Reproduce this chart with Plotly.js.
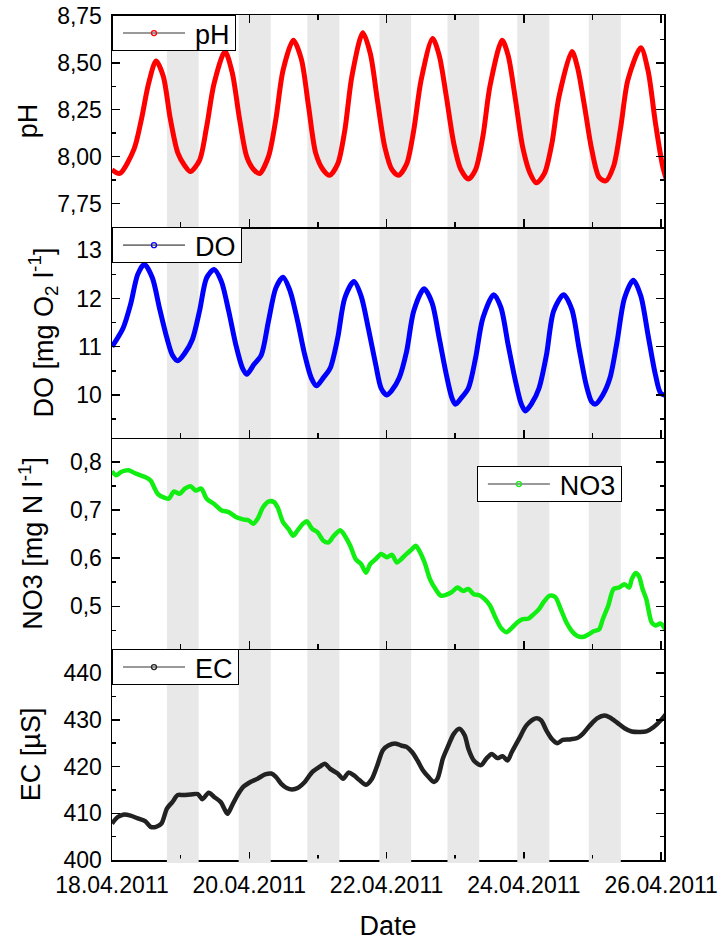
<!DOCTYPE html>
<html><head><meta charset="utf-8">
<script src="https://cdn.plot.ly/plotly-3.0.1.min.js"></script>
<style>html,body{margin:0;padding:0;background:#fff}#chart{width:721px;height:941px}</style>
</head><body><div id="chart"></div>
<script>
// Time values are hours since 18.04.2011 00:00
const startDate = '2011-04-18T00:00:00Z';

const phHours = [0,2.7,7.7,10.3,12.8,15.4,17.9,20.4,23.0,25.5,27.4,30.6,33.1,35.7,39.5,42.0,44.6,47.1,49.6,51.6,54.7,57.3,59.8,63.4,66.2,68.7,71.2,73.8,76.1,78.9,81.4,83.9,87.7,90.3,92.8,95.4,97.9,100.2,103.0,105.5,108.1,112.1,114.4,116.9,119.5,122.0,124.6,127.1,129.7,132.2,136.4,138.5,141.1,143.6,146.2,148.4,151.2,153.8,156.3,160.8,162.7,165.2,167.7,170.3,172.6,175.4,177.9,180.4,184.9,187.4,190.0,192.5,194];
const phValues = [7.93,7.91,8.04,8.20,8.39,8.51,8.43,8.20,8.02,7.95,7.92,7.98,8.16,8.39,8.56,8.45,8.20,8.00,7.93,7.91,8.00,8.20,8.46,8.62,8.52,8.27,8.02,7.93,7.90,7.96,8.14,8.43,8.66,8.55,8.30,8.05,7.93,7.90,7.96,8.14,8.41,8.63,8.54,8.32,8.07,7.93,7.88,7.93,8.11,8.38,8.62,8.54,8.30,8.05,7.91,7.86,7.91,8.07,8.32,8.56,8.48,8.27,8.04,7.89,7.87,7.95,8.16,8.41,8.58,8.46,8.18,7.95,7.87];

const doHours = [0,3.9,6.5,9.0,11.3,14.1,16.6,19.2,21.1,23.0,25.5,28.1,30.6,33.1,35.7,38.2,40.8,43.3,45.6,47.1,49.6,52.2,54.7,57.3,59.8,62.3,64.9,67.4,69.7,71.5,73.8,76.3,78.9,81.4,84.6,87.1,89.6,92.2,94.1,96.0,97.9,100.4,103.0,105.5,109.1,111.9,114.4,116.9,118.9,120.1,122.0,124.6,127.1,129.7,133.5,136.0,138.5,141.1,143.0,144.5,146.8,149.3,151.9,154.4,157.9,160.8,163.3,165.8,167.7,169.0,171.6,174.1,176.6,179.2,182.3,184.9,187.4,190.0,191.9,194];
const doValues = [11.0,11.39,11.88,12.5,12.71,12.43,11.8,11.18,10.83,10.71,10.87,11.15,11.74,12.43,12.60,12.36,11.74,11.04,10.56,10.43,10.63,10.83,11.53,12.22,12.44,12.15,11.53,10.83,10.35,10.19,10.35,10.56,11.18,12.01,12.35,12.05,11.39,10.63,10.14,10.0,10.10,10.35,10.90,11.74,12.20,11.91,11.18,10.42,9.93,9.81,9.93,10.14,10.76,11.60,12.08,11.81,11.04,10.28,9.83,9.67,9.83,10.14,10.83,11.74,12.08,11.77,10.97,10.21,9.86,9.81,10.0,10.35,11.11,12.01,12.38,12.05,11.25,10.42,10.03,9.99];

const no3Hours = [0,1.4,3.3,5.8,8.4,11.6,13.5,14.7,16.0,17.9,19.8,21.7,23.6,25.5,27.4,29.3,31.2,33.1,35.7,38.2,40.8,43.3,45.8,47.7,49.4,50.9,52.8,54.7,56.6,57.9,59.8,61.7,63.4,64.9,66.8,68.1,70.0,71.9,73.8,75.7,77.6,79.9,81.4,83.3,85.2,87.1,88.8,90.3,92.2,94.1,96.0,97.9,99.6,101.1,103.0,104.9,106.2,107.4,109.3,111.2,113.1,115.0,116.9,118.9,120.8,122.7,124.6,126.5,128.4,130.3,132.2,134.1,136.0,137.9,139.8,141.7,143.6,145.5,147.4,149.3,151.2,153.1,155.0,156.9,158.9,160.8,162.7,164.6,166.5,168.4,170.3,171.6,173.5,175.4,177.3,179.2,180.8,181.7,183.0,184.2,185.5,186.8,188.7,190.0,191.9,193.8];
const no3Values = [0.781,0.773,0.780,0.783,0.776,0.769,0.762,0.748,0.734,0.727,0.724,0.739,0.734,0.745,0.750,0.741,0.745,0.724,0.713,0.700,0.696,0.686,0.681,0.679,0.672,0.682,0.706,0.718,0.717,0.706,0.675,0.661,0.647,0.658,0.672,0.677,0.661,0.654,0.637,0.633,0.647,0.658,0.647,0.626,0.598,0.588,0.570,0.588,0.598,0.609,0.602,0.607,0.591,0.598,0.609,0.619,0.626,0.616,0.591,0.556,0.536,0.522,0.524,0.530,0.539,0.532,0.536,0.525,0.523,0.515,0.501,0.476,0.455,0.446,0.455,0.466,0.473,0.474,0.483,0.494,0.511,0.522,0.519,0.494,0.466,0.448,0.438,0.436,0.441,0.448,0.452,0.473,0.501,0.536,0.539,0.546,0.539,0.556,0.569,0.563,0.536,0.515,0.466,0.460,0.464,0.448];

const ecHours = [0,2.0,3.9,6.5,9.0,11.6,13.5,15.4,17.3,19.2,21.1,23.0,24.9,27.4,30.0,31.6,33.8,35.7,38.0,39.5,40.4,42.0,43.9,45.8,48.4,50.9,53.5,55.7,57.3,59.2,61.1,63.0,64.9,67.4,70.0,72.5,74.4,76.3,78.9,80.8,82.7,84.6,86.5,88.8,90.9,92.8,94.7,96.6,99.2,101.1,103.0,104.9,106.8,108.7,110.6,112.5,113.8,115.7,117.6,119.5,121.4,123.3,124.6,126.5,129.0,130.9,132.8,134.7,136.6,138.3,139.8,142.3,144.9,148.1,150.0,151.9,153.8,155.7,157.6,160.1,162.7,164.6,167.1,169.6,172.2,174.1,176.6,179.2,181.7,184.2,186.8,189.3,191.9,193.8];
const ecValues = [407.8,409.2,409.7,409.5,408.9,408.3,407.1,407.1,407.8,411.0,412.4,413.9,413.9,414.0,414.1,413.0,414.4,413.5,412.4,410.7,409.9,411.7,413.9,415.6,416.7,417.4,418.3,418.5,417.8,416.3,415.4,415.1,415.4,416.7,418.8,419.9,420.6,419.5,418.5,417.4,418.7,418.1,417.1,416.1,417.4,420.3,423.5,424.5,424.9,424.5,424.2,423.1,421.3,419.2,417.8,416.7,417.4,421.7,424.5,427.0,428.1,426.7,423.8,421.3,420.3,421.7,422.7,421.8,422.2,421.3,423.1,425.9,428.8,430.3,429.9,427.7,425.9,425.0,425.7,425.8,426.1,427.0,428.8,430.3,430.9,430.5,429.4,428.2,427.5,427.4,427.5,428.4,429.9,431.3];

// night periods (shaded), hours since start
const nightStart = [19.2,44.3,68.3,93.5,117.3,141.7,166.7];
const nightEnd   = [30.3,55.5,79.5,104.6,128.4,152.9,177.9];

const seriesNames = ['pH','DO','NO3','EC'];
const seriesColors = ['#ff0000','#0000ff','#11ee11','#222222'];

const t0 = Date.parse(startDate);
function toDate(h){ return new Date(t0 + h*3600000).toISOString().slice(0,19).replace('T',' '); }

const FONT = 'Liberation Sans, Arial, sans-serif';
const hoursArr = [phHours, doHours, no3Hours, ecHours];
const valArr = [phValues, doValues, no3Values, ecValues];
const yRefs = ['y4','y3','y2','y'];
const xRefs = ['x4','x3','x2','x'];
const legendIds = ['legend','legend2','legend3','legend4'];
const widths = [5,5,4.5,4.5];

const traces = [];
for (let i=0;i<4;i++){
  traces.push({
    type:'scatter', mode:'lines', name:seriesNames[i],
    x: hoursArr[i].map(toDate), y: valArr[i],
    xaxis: xRefs[i], yaxis: yRefs[i],
    line:{color:seriesColors[i], width:widths[i], shape:'spline', smoothing:0.8},
    showlegend:false, hoverinfo:'x+y'
  });
  traces.push({
    type:'scatter', mode:'lines+markers', name:seriesNames[i],
    x:[null], y:[null], xaxis: xRefs[i], yaxis: yRefs[i],
    line:{color:'#777777', width:1.6},
    marker:{symbol:'circle-open', size:5, color:seriesColors[i], line:{width:1.3, color:seriesColors[i]}},
    legend: legendIds[i], showlegend:true
  });
}

const shapes = [];
for (let i=0;i<nightStart.length;i++){
  shapes.push({type:'rect', xref:'x', yref:'paper', x0:toDate(nightStart[i]), x1:toDate(nightEnd[i]),
    y0:0, y1:1, fillcolor:'#e8e8e8', line:{width:0}, layer:'below'});
  shapes.push({type:'rect', xref:'x', yref:'paper', x0:toDate(nightStart[i]), x1:toDate(nightEnd[i]),
    y0:-0.0035, y1:0.0018, fillcolor:'#e8e8e8', line:{width:0}, layer:'above'});
}

const xRange = [toDate(0), toDate(193)];
function xAxis(anchor, labels, mirror){
  return {
    type:'date', anchor:anchor, matches: anchor==='y' ? undefined : 'x',
    range:xRange, showline:true, linecolor:'#000', linewidth:1.5,
    mirror:mirror, ticks:'inside', ticklen:8, tickwidth:1.5, tickcolor:'#000',
    tick0:'2011-04-18', dtick:172800000, tickformat:'%d.%m.%Y',
    minor:{ticks:'inside', ticklen:5, tickwidth:1.5, dtick:86400000, tick0:'2011-04-18', tickcolor:'#000'},
    showticklabels:labels, showgrid:false, zeroline:false, ticklabelstandoff:4,
    tickfont:{family:FONT, size:23, color:'#000'}
  };
}
function yAxis(domain, range, dtick, tick0, minorDtick, fmt, title, standoff){
  return {
    domain:domain, range:range, showline:true, linecolor:'#000', linewidth:1.5,
    mirror:'ticks', ticks:'inside', ticklen:8, tickwidth:1.5, tickcolor:'#000',
    tick0:tick0, dtick:dtick, tickformat:fmt, ticklabelstandoff:4,
    minor:{ticks:'inside', ticklen:4, tickwidth:1.5, dtick:minorDtick, tick0:tick0, tickcolor:'#000'},
    showgrid:false, zeroline:false,
    tickfont:{family:FONT, size:23, color:'#000'},
    title:{text:title, font:{family:FONT, size:27, color:'#000'}, standoff:standoff}
  };
}

function legendBox(x, y){
  return {x:x, y:y, xanchor:'left', yanchor:'top', bgcolor:'#fff', bordercolor:'#000', borderwidth:1,
    font:{family:FONT, size:27, color:'#000'}, itemwidth:72, tracegroupgap:0};
}

const layout = {
  width:721, height:941, autosize:false,
  margin:{l:112, r:57, t:15, b:81},
  paper_bgcolor:'#fff', plot_bgcolor:'rgba(0,0,0,0)',
  separators:', ',
  font:{family:FONT, color:'#000'},
  xaxis: Object.assign(xAxis('y', true, false), {title:{text:'Date', font:{family:FONT, size:27, color:'#000'}, standoff:20}}),
  xaxis2: xAxis('y2', false, false),
  xaxis3: xAxis('y3', false, false),
  xaxis4: xAxis('y4', false, 'ticks'),
  yaxis: yAxis([0,0.25], [400,445.2], 10, 400, 5, 'd', 'EC [µS]', 15),
  yaxis2: yAxis([0.25,0.4995], [0.4115,0.8505], 0.1, 0.5, 0.05, '.1f', 'NO3 [mg N l<sup>-1</sup>]', 19),
  yaxis3: yAxis([0.4995,0.749], [9.11,13.48], 1, 10, 0.5, 'd', 'DO [mg O<sub>2</sub> l<sup>-1</sup>]', 15),
  yaxis4: yAxis([0.749,1], [7.624,8.755], 0.25, 7.75, 0.125, '.2f', 'pH', 11),
  legend: legendBox(0, 1),
  legend2: legendBox(0, 0.749),
  legend3: legendBox(0.661, 0.4663),
  legend4: legendBox(0, 0.2497),
  shapes: shapes,
  showlegend:true
};

const gd = document.getElementById('chart');
Plotly.newPlot(gd, traces, layout, {displayModeBar:false, staticPlot:true}).then(function(){
  // Origin-style legend sample: longer grey line with the marker in its middle, compact box
  const boxH = 36;
  gd.querySelectorAll('g.legend, g.legend2, g.legend3, g.legend4').forEach(function(lg){
    const bg = lg.querySelector('rect.bg');
    if (!bg) return;
    const oldH = parseFloat(bg.getAttribute('height')) || boxH;
    const shift = (oldH - boxH) / 2;
    bg.setAttribute('height', boxH - 1);
    const sb = lg.querySelector('g.scrollbox');
    if (sb) sb.setAttribute('transform', 'translate(0,' + (-shift) + ')');
    lg.querySelectorAll('path.js-line').forEach(function(p){ p.setAttribute('d', 'M10,0h62'); });
    lg.querySelectorAll('.legendpoints path.scatterpts').forEach(function(p){ p.setAttribute('transform', 'translate(41,0)'); });
  });
});
</script>
</body></html>
